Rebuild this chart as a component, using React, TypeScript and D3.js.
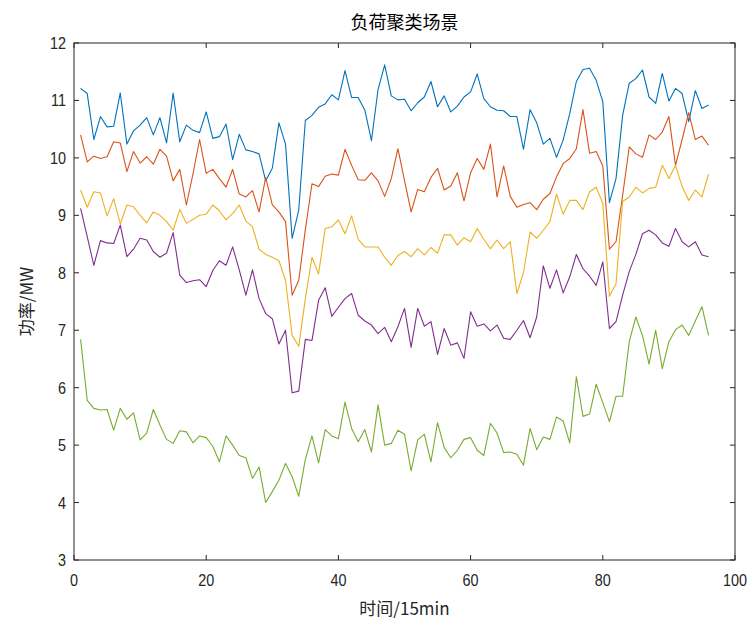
import React, { useEffect, useRef } from 'react';
import * as d3 from 'd3';

// 5 load cluster scenarios, 96 points each (15 min steps)
const scene1 = [
  11.21, 11.12, 10.32, 10.72, 10.54, 10.55, 11.13, 10.24, 10.47, 10.57,
  10.70, 10.40, 10.70, 10.26, 11.13, 10.28, 10.57, 10.48, 10.44, 10.80,
  10.34, 10.37, 10.59, 9.97, 10.41, 10.14, 10.11, 10.07, 9.60, 9.82,
  10.61, 10.24, 8.60, 9.09, 10.65, 10.74, 10.88, 10.94, 11.10, 11.01,
  11.52, 11.05, 11.05, 10.83, 10.30, 11.19, 11.62, 11.08, 11.01, 11.02,
  10.82, 10.96, 11.06, 11.33, 10.89, 11.08, 10.80, 10.90, 11.06, 11.15,
  11.46, 11.03, 10.89, 10.83, 10.82, 10.72, 10.72, 10.15, 10.84, 10.61,
  10.24, 10.34, 10.01, 10.31, 10.77, 11.33, 11.54, 11.56, 11.35, 10.98,
  9.22, 9.64, 10.74, 11.30, 11.38, 11.53, 11.06, 10.95, 11.47, 10.99,
  11.21, 11.12, 10.63, 11.17, 10.86, 10.92,
];
const scene2 = [
  10.40, 9.93, 10.03, 9.99, 10.02, 10.28, 10.26, 9.76, 10.11, 9.91,
  10.02, 9.89, 10.15, 10.03, 9.60, 9.80, 9.18, 9.72, 10.32, 9.73,
  9.80, 9.64, 9.49, 9.80, 9.37, 9.32, 9.43, 9.06, 9.66, 9.18,
  9.06, 8.89, 7.61, 7.87, 8.75, 9.55, 9.50, 9.68, 9.72, 9.70,
  10.15, 9.87, 9.62, 9.61, 9.74, 9.60, 9.33, 9.64, 10.16, 9.61,
  9.06, 9.45, 9.41, 9.66, 9.82, 9.44, 9.51, 9.74, 9.25, 9.74,
  9.99, 9.80, 10.24, 9.32, 9.86, 9.33, 9.14, 9.19, 9.22, 9.10,
  9.28, 9.38, 9.67, 9.90, 9.99, 10.16, 10.84, 10.08, 10.11, 9.86,
  8.41, 8.54, 9.35, 10.19, 10.07, 10.01, 10.40, 10.32, 10.45, 10.72,
  9.87, 10.32, 10.79, 10.32, 10.38, 10.22,
];
const scene3 = [
  9.44, 9.14, 9.41, 9.39, 8.99, 9.29, 8.85, 9.18, 9.15, 9.00,
  8.87, 9.06, 9.00, 8.89, 8.74, 9.10, 8.86, 8.93, 9.00, 9.02,
  9.18, 9.08, 8.92, 9.03, 9.18, 8.90, 8.80, 8.41, 8.32, 8.27,
  8.21, 7.87, 6.91, 6.72, 7.55, 8.27, 7.98, 8.77, 8.80, 8.92,
  8.68, 8.99, 8.58, 8.45, 8.45, 8.45, 8.27, 8.13, 8.30, 8.37,
  8.28, 8.42, 8.31, 8.44, 8.34, 8.66, 8.66, 8.48, 8.61, 8.54,
  8.77, 8.58, 8.42, 8.57, 8.42, 8.54, 7.64, 8.00, 8.71, 8.60,
  8.74, 8.89, 9.37, 9.02, 9.26, 9.26, 9.10, 9.41, 9.49, 9.21,
  7.59, 7.81, 9.24, 9.32, 9.49, 9.39, 9.47, 9.49, 9.87, 9.64,
  9.87, 9.50, 9.26, 9.44, 9.32, 9.72,
];
const scene4 = [
  9.12, 8.63, 8.13, 8.56, 8.52, 8.51, 8.83, 8.28, 8.41, 8.60,
  8.57, 8.37, 8.27, 8.34, 8.70, 7.96, 7.83, 7.86, 7.88, 7.76,
  8.04, 8.21, 8.13, 8.45, 8.05, 7.61, 8.05, 7.55, 7.29, 7.20,
  6.76, 7.00, 5.91, 5.94, 6.84, 6.82, 7.52, 7.74, 7.24, 7.40,
  7.55, 7.64, 7.26, 7.16, 7.09, 6.94, 7.05, 6.80, 7.06, 7.38,
  6.70, 7.38, 7.07, 7.15, 6.58, 7.03, 6.74, 6.78, 6.51, 7.32,
  7.07, 7.11, 6.99, 7.09, 6.86, 6.84, 7.00, 7.17, 6.87, 7.23,
  8.12, 7.73, 8.05, 7.65, 7.93, 8.32, 8.07, 7.94, 7.78, 8.19,
  7.03, 7.15, 7.61, 8.02, 8.32, 8.68, 8.74, 8.66, 8.52, 8.46,
  8.77, 8.54, 8.45, 8.54, 8.31, 8.28,
];
const scene5 = [
  6.84, 5.78, 5.64, 5.61, 5.62, 5.26, 5.64, 5.45, 5.56, 5.09,
  5.21, 5.62, 5.35, 5.10, 5.03, 5.25, 5.23, 5.04, 5.16, 5.13,
  4.98, 4.71, 5.16, 5.00, 4.82, 4.78, 4.42, 4.62, 4.00, 4.19,
  4.39, 4.68, 4.45, 4.11, 4.75, 5.16, 4.69, 5.27, 5.16, 5.11,
  5.75, 5.29, 5.06, 5.27, 4.88, 5.70, 5.00, 5.03, 5.26, 5.19,
  4.55, 5.09, 5.19, 4.71, 5.39, 4.96, 4.78, 4.91, 5.10, 5.13,
  4.91, 4.82, 5.38, 5.21, 4.87, 4.88, 4.84, 4.65, 5.29, 4.92,
  5.14, 5.10, 5.49, 5.42, 5.04, 6.19, 5.50, 5.54, 6.06, 5.74,
  5.41, 5.85, 5.85, 6.80, 7.23, 6.91, 6.41, 7.00, 6.33, 6.80,
  7.01, 7.09, 6.91, 7.16, 7.41, 6.91,
];

const seriesList = [scene1, scene2, scene3, scene4, scene5];
const colors = ['#0072BD', '#D95319', '#EDB120', '#7E2F8E', '#77AC30'];
const xTicks = [0, 20, 40, 60, 80, 100];
const yTicks = [3, 4, 5, 6, 7, 8, 9, 10, 11, 12];

const W = 749;
const H = 621;
const margin = { left: 74, right: 14, top: 43, bottom: 61 };

export default function App() {
  const ref = useRef<SVGSVGElement>(null);

  useEffect(() => {
    const svg = d3.select(ref.current);
    svg.selectAll('*').remove();

    const x = d3.scaleLinear().domain([0, 100]).range([margin.left, W - margin.right]);
    const y = d3.scaleLinear().domain([3, 12]).range([H - margin.bottom, margin.top]);
    const axisColor = '#262626';
    const font = '"Liberation Sans", Arial, sans-serif';

    // lines
    const line = d3.line<number>()
      .x((d, i) => x(i + 1))
      .y(d => y(d));

    svg.selectAll('path.series')
      .data(seriesList)
      .enter()
      .append('path')
      .attr('class', 'series')
      .attr('d', d => line(d))
      .attr('fill', 'none')
      .attr('stroke', (d, i) => colors[i])
      .attr('stroke-width', 1.1)
      .attr('stroke-linejoin', 'round');

    // box
    svg.append('rect')
      .attr('x', x(0))
      .attr('y', y(12))
      .attr('width', x(100) - x(0))
      .attr('height', y(3) - y(12))
      .attr('fill', 'none')
      .attr('stroke', axisColor)
      .attr('stroke-width', 1);

    // inward ticks, MATLAB style
    const tl = 5;
    const g = svg.append('g').attr('stroke', axisColor).attr('stroke-width', 1);
    xTicks.forEach(t => {
      g.append('line').attr('x1', x(t)).attr('x2', x(t)).attr('y1', y(3)).attr('y2', y(3) - tl);
      g.append('line').attr('x1', x(t)).attr('x2', x(t)).attr('y1', y(12)).attr('y2', y(12) + tl);
    });
    yTicks.forEach(t => {
      g.append('line').attr('x1', x(0)).attr('x2', x(0) + tl).attr('y1', y(t)).attr('y2', y(t));
      g.append('line').attr('x1', x(100)).attr('x2', x(100) - tl).attr('y1', y(t)).attr('y2', y(t));
    });

    // tick labels (slightly condensed like the source)
    svg.selectAll('text.xt')
      .data(xTicks)
      .enter()
      .append('text')
      .attr('class', 'xt')
      .attr('transform', d => `translate(${x(d)},${y(3) + 26}) scale(0.9,1)`)
      .attr('text-anchor', 'middle')
      .attr('font-family', font)
      .attr('font-size', 16)
      .attr('fill', axisColor)
      .text(d => d);

    svg.selectAll('text.yt')
      .data(yTicks)
      .enter()
      .append('text')
      .attr('class', 'yt')
      .attr('transform', d => `translate(${x(0) - 8},${y(d) + 6}) scale(0.9,1)`)
      .attr('text-anchor', 'end')
      .attr('font-family', font)
      .attr('font-size', 16)
      .attr('fill', axisColor)
      .text(d => d);

    const cjk = '"Noto Sans CJK SC", "Noto Sans", sans-serif';
    svg.append('text')
      .attr('x', (x(0) + x(100)) / 2)
      .attr('y', 29)
      .attr('text-anchor', 'middle')
      .attr('font-family', cjk)
      .attr('font-size', 18)
      .attr('fill', '#000')
      .text('负荷聚类场景');

    svg.append('text')
      .attr('x', (x(0) + x(100)) / 2)
      .attr('y', 615)
      .attr('text-anchor', 'middle')
      .attr('font-family', cjk)
      .attr('font-size', 17)
      .attr('fill', axisColor)
      .text('时间/15min');

    svg.append('text')
      .attr('transform', `translate(33,${(y(3) + y(12)) / 2}) rotate(-90)`)
      .attr('text-anchor', 'middle')
      .attr('font-family', cjk)
      .attr('font-size', 17)
      .attr('fill', axisColor)
      .text('功率/MW');
  }, []);

  return (
    <svg
      ref={ref}
      width={W}
      height={H}
      style={{ position: 'absolute', left: 0, top: 0, background: '#fff' }}
    />
  );
}
